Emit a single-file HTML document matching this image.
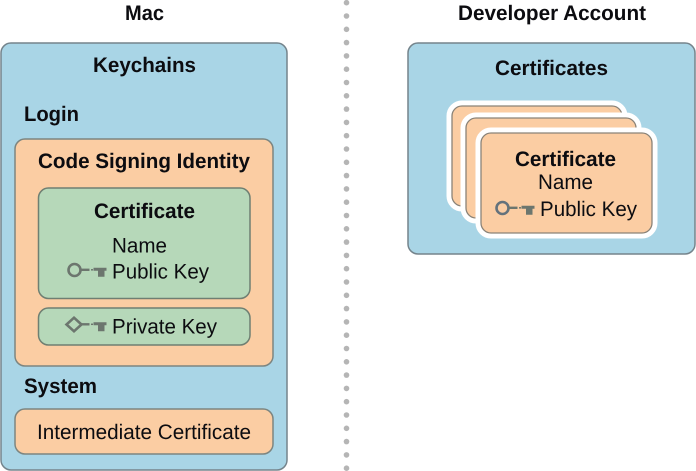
<!DOCTYPE html>
<html><head><meta charset="utf-8"><style>
html,body{margin:0;padding:0;background:#fff;width:696px;height:471px;overflow:hidden}
svg{display:block;filter:blur(0.35px)}
text{font-family:"Liberation Sans",sans-serif;font-size:21px;fill:#0c0c10;text-rendering:geometricPrecision}
.b{font-weight:bold}
</style></head><body>
<svg width="696" height="471" viewBox="0 0 696 471" xmlns="http://www.w3.org/2000/svg">
<defs>
<g id="k">
<path d="M12.500 -0.200H21.500" stroke="#6c766e" stroke-width="2.400" fill="none"/>
<path d="M23 -0.200H25" stroke="#6c766e" stroke-width="1.500" fill="none"/>
<path d="M25.500 -2.200H38.500V0.800H36.500V6.800H30V0.800H25.500Z" fill="#6c766e"/>
</g>
</defs>
<g fill="#b5b5b5">
<circle cx="346.500" cy="2.700" r="2.800"/><circle cx="346.500" cy="16" r="2.800"/><circle cx="346.500" cy="29.300" r="2.800"/><circle cx="346.500" cy="42.600" r="2.800"/><circle cx="346.500" cy="55.900" r="2.800"/><circle cx="346.500" cy="69.200" r="2.800"/><circle cx="346.500" cy="82.500" r="2.800"/><circle cx="346.500" cy="95.800" r="2.800"/><circle cx="346.500" cy="109.100" r="2.800"/><circle cx="346.500" cy="122.400" r="2.800"/><circle cx="346.500" cy="135.700" r="2.800"/><circle cx="346.500" cy="149" r="2.800"/><circle cx="346.500" cy="162.300" r="2.800"/><circle cx="346.500" cy="175.600" r="2.800"/><circle cx="346.500" cy="188.900" r="2.800"/><circle cx="346.500" cy="202.200" r="2.800"/><circle cx="346.500" cy="215.500" r="2.800"/><circle cx="346.500" cy="228.800" r="2.800"/><circle cx="346.500" cy="242.100" r="2.800"/><circle cx="346.500" cy="255.400" r="2.800"/><circle cx="346.500" cy="268.700" r="2.800"/><circle cx="346.500" cy="282" r="2.800"/><circle cx="346.500" cy="295.300" r="2.800"/><circle cx="346.500" cy="308.600" r="2.800"/><circle cx="346.500" cy="321.900" r="2.800"/><circle cx="346.500" cy="335.200" r="2.800"/><circle cx="346.500" cy="348.500" r="2.800"/><circle cx="346.500" cy="361.800" r="2.800"/><circle cx="346.500" cy="375.100" r="2.800"/><circle cx="346.500" cy="388.400" r="2.800"/><circle cx="346.500" cy="401.700" r="2.800"/><circle cx="346.500" cy="415" r="2.800"/><circle cx="346.500" cy="428.300" r="2.800"/><circle cx="346.500" cy="441.600" r="2.800"/><circle cx="346.500" cy="454.900" r="2.800"/><circle cx="346.500" cy="468.200" r="2.800"/>
</g>

<rect x="1" y="43" width="286" height="427" rx="10" fill="#a9d5e6" stroke="#75848c" stroke-width="1.500"/>
<rect x="15" y="139" width="258" height="227" rx="10" fill="#fbcda3" stroke="#7d8580" stroke-width="1.500"/>
<rect x="38.500" y="188" width="211.500" height="110.500" rx="10" fill="#b6d8b9" stroke="#6f7f72" stroke-width="1.500"/>
<rect x="38.500" y="308" width="211.500" height="37" rx="10" fill="#b6d8b9" stroke="#6f7f72" stroke-width="1.500"/>
<rect x="15" y="409" width="258" height="45" rx="10" fill="#fbcda3" stroke="#7d8580" stroke-width="1.500"/>

<rect x="408" y="43" width="287" height="211" rx="10" fill="#a9d5e6" stroke="#75848c" stroke-width="1.500"/>
<rect x="452" y="106" width="170" height="100" rx="10" fill="#fbcda3" stroke="#fff" stroke-width="11"/>
<rect x="452" y="106" width="170" height="100" rx="10" fill="#fbcda3" stroke="#8a8378" stroke-width="1.300"/>
<rect x="466" y="118" width="170" height="100" rx="10" fill="#fbcda3" stroke="#fff" stroke-width="11"/>
<rect x="466" y="118" width="170" height="100" rx="10" fill="#fbcda3" stroke="#8a8378" stroke-width="1.300"/>
<rect x="481" y="133" width="171" height="100" rx="10" fill="#fbcda3" stroke="#fff" stroke-width="11"/>
<rect x="481" y="133" width="171" height="100" rx="10" fill="#fbcda3" stroke="#8a8378" stroke-width="1.300"/>

<text class="b" x="125" y="20" textLength="39" lengthAdjust="spacingAndGlyphs">Mac</text>
<text class="b" x="93" y="72" textLength="103" lengthAdjust="spacingAndGlyphs">Keychains</text>
<text class="b" x="24" y="121" textLength="55" lengthAdjust="spacingAndGlyphs">Login</text>
<text class="b" x="38" y="168" textLength="212" lengthAdjust="spacingAndGlyphs">Code Signing Identity</text>
<text class="b" x="94" y="218" textLength="101" lengthAdjust="spacingAndGlyphs">Certificate</text>
<text x="112" y="252.500" textLength="55" lengthAdjust="spacingAndGlyphs">Name</text>
<text x="112" y="278.500" textLength="97" lengthAdjust="spacingAndGlyphs">Public Key</text>
<text x="112" y="333.500" textLength="105" lengthAdjust="spacingAndGlyphs">Private Key</text>
<text class="b" x="24" y="393" textLength="73" lengthAdjust="spacingAndGlyphs">System</text>
<text x="37" y="439" textLength="214" lengthAdjust="spacingAndGlyphs">Intermediate Certificate</text>

<text class="b" x="458" y="20" textLength="188" lengthAdjust="spacingAndGlyphs">Developer Account</text>
<text class="b" x="495" y="75" textLength="113" lengthAdjust="spacingAndGlyphs">Certificates</text>
<text class="b" x="515" y="166" textLength="101" lengthAdjust="spacingAndGlyphs">Certificate</text>
<text x="538" y="189" textLength="55" lengthAdjust="spacingAndGlyphs">Name</text>
<text x="540" y="216" textLength="97" lengthAdjust="spacingAndGlyphs">Public Key</text>

<g transform="translate(68,270)">
<circle cx="6.500" cy="0" r="6" fill="none" stroke="#6c766e" stroke-width="2.600"/><use href="#k"/>
</g>
<g transform="translate(66,324.500)">
<path d="M8 -6.800L15.500 0L8 6.800L0.500 0Z" fill="none" stroke="#6c766e" stroke-width="2.600"/><use href="#k" x="2"/>
</g>
<g transform="translate(496,208)">
<circle cx="6.500" cy="0" r="6" fill="none" stroke="#64727c" stroke-width="2.600"/><use href="#k"/>
</g>
</svg>
</body></html>
